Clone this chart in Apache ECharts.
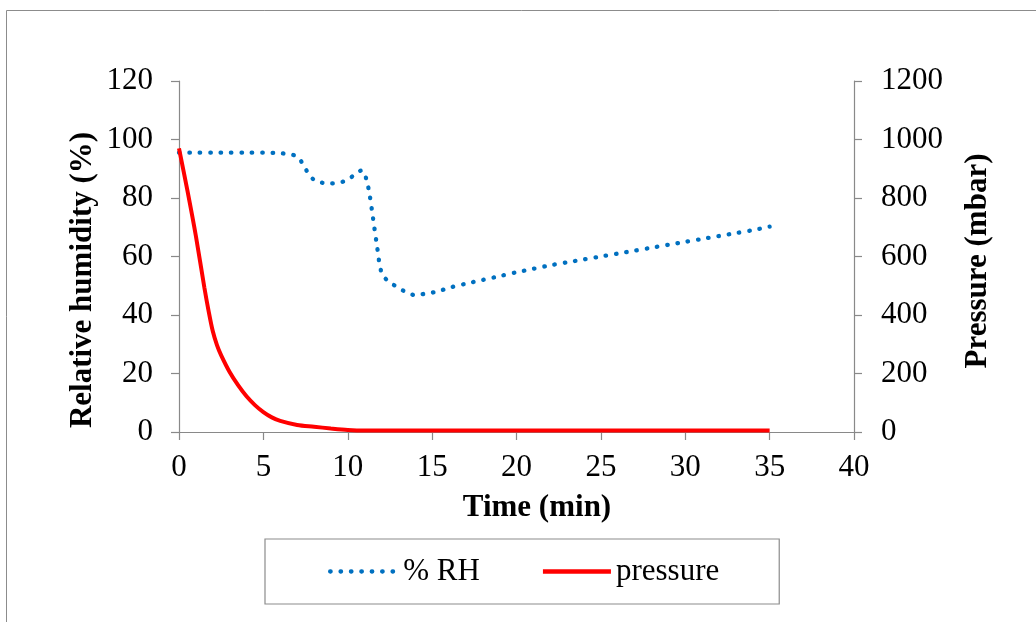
<!DOCTYPE html>
<html>
<head>
<meta charset="utf-8">
<script src="https://cdn.jsdelivr.net/npm/echarts@6/dist/echarts.min.js"></script>
<style>
html,body{margin:0;padding:0;background:#fff;}
#chart{width:1036px;height:622px;}
</style>
</head>
<body>
<div id="chart"></div>
<script>
var rhTime  = [0,1,2,3,4,5,6,6.5,7,7.3,7.6,8,8.5,9,9.5,10,10.4,10.85,11.1,11.3,11.5,11.7,12,12.4,12.9,13.4,14,14.6,15.3,16,17,18,19,20,21,22,23,24,25,26,27,28,29,30,31,32,33,34,35];
var rhValue = [95.5,95.5,95.5,95.5,95.5,95.5,95.3,95,94.2,92,89,86.2,85.2,85,85.3,86.2,88,89.5,86.5,81,73,65,54.5,51.5,49.7,48,46.8,47.3,48,49.3,50.7,52,53.3,54.6,55.8,57,58,59,60,61,62,63,64,65,66,67,68,69,70.2];
var pTime   = [0,0.5,1,1.5,1.75,2,2.25,2.5,3,3.5,4,4.5,5,5.5,6,7,8,9,10,11,12,15,20,25,30,35];
var pValue  = [970,825,670,495,415,345,297,262,205,160,122,92,68,50,38,24,18,12,7,5,5,5,5,5,5,5];
var xTicks = {min:0, max:40, interval:5};
var leftTicks = {min:0, max:120, interval:20};
var rightTicks = {min:0, max:1200, interval:200};
var seriesNames = ['% RH', 'pressure'];
var xTitle = 'Time (min)', leftTitle = 'Relative humidity (%)', rightTitle = 'Pressure (mbar)';

function pairs(a, b){ return a.map(function(t,i){ return [t, b[i]]; }); }

var FONT = 'Liberation Serif';
var axisGray = '#898989';
var chart = echarts.init(document.getElementById('chart'), null, {renderer:'canvas'});
var labelStyle = {fontFamily:FONT, fontSize:31, color:'#000', formatter:function(v){ return String(v); }};
chart.setOption({
  backgroundColor:'#fff',
  animation:false,
  grid:{left:179, right:182, top:81, bottom:190, containLabel:false},
  xAxis:{
    type:'value', min:xTicks.min, max:xTicks.max, interval:xTicks.interval,
    axisLine:{show:true, lineStyle:{color:axisGray, width:1.2}},
    axisTick:{show:true, length:8, inside:false, lineStyle:{color:axisGray, width:1.2}},
    axisLabel:Object.assign({margin:20}, labelStyle),
    splitLine:{show:false}
  },
  yAxis:[{
    type:'value', min:leftTicks.min, max:leftTicks.max, interval:leftTicks.interval, position:'left',
    axisLine:{show:true, lineStyle:{color:axisGray, width:1.2}},
    axisTick:{show:true, length:8, lineStyle:{color:axisGray, width:1.2}},
    axisLabel:Object.assign({margin:26}, labelStyle),
    splitLine:{show:false}
  },{
    type:'value', min:rightTicks.min, max:rightTicks.max, interval:rightTicks.interval, position:'right',
    axisLine:{show:true, lineStyle:{color:axisGray, width:1.2}},
    axisTick:{show:true, length:8, lineStyle:{color:axisGray, width:1.2}},
    axisLabel:Object.assign({margin:27}, labelStyle),
    splitLine:{show:false}
  }],
  legend:{
    left:265, top:539,
    padding:[17,60,17,63],
    borderColor:'#8c8c8c', borderWidth:1.2,
    itemWidth:68, itemHeight:14, itemGap:61,
    itemStyle:{color:'transparent', borderWidth:0, opacity:0},
    lineStyle:{width:4.3},
    textStyle:{fontFamily:FONT, fontSize:31, color:'#000', lineHeight:31},
    data:seriesNames
  },
  graphic:[
    {type:'rect', left:4, top:8, shape:{x:0,y:0,width:1100,height:700}, style:{fill:'none', stroke:'#8c8c8c', lineWidth:1}, silent:true, z:-10},
    {type:'text', x:537, y:508, style:{text:xTitle, font:'bold 31px "Liberation Serif"', fill:'#000', textAlign:'center', textVerticalAlign:'middle'}},
    {type:'text', x:83, y:280, rotation:Math.PI/2, style:{text:leftTitle, font:'bold 31px "Liberation Serif"', fill:'#000', textAlign:'center', textVerticalAlign:'middle'}},
    {type:'text', x:978, y:261, rotation:Math.PI/2, style:{text:rightTitle, font:'bold 31px "Liberation Serif"', fill:'#000', textAlign:'center', textVerticalAlign:'middle'}}
  ],
  series:[{
    name:seriesNames[0], type:'line', yAxisIndex:0,
    data:pairs(rhTime, rhValue),
    smooth:0.3, symbol:'none', showSymbol:false,
    lineStyle:{color:'#0070C0', width:4.3, type:[0.5,9.9], cap:'round'},
    itemStyle:{color:'#0070C0'}
  },{
    name:seriesNames[1], type:'line', yAxisIndex:1,
    data:pairs(pTime, pValue),
    smooth:0.3, symbol:'none', showSymbol:false,
    lineStyle:{color:'#FF0000', width:4},
    itemStyle:{color:'#FF0000'}
  }]
});
</script>
</body>
</html>
